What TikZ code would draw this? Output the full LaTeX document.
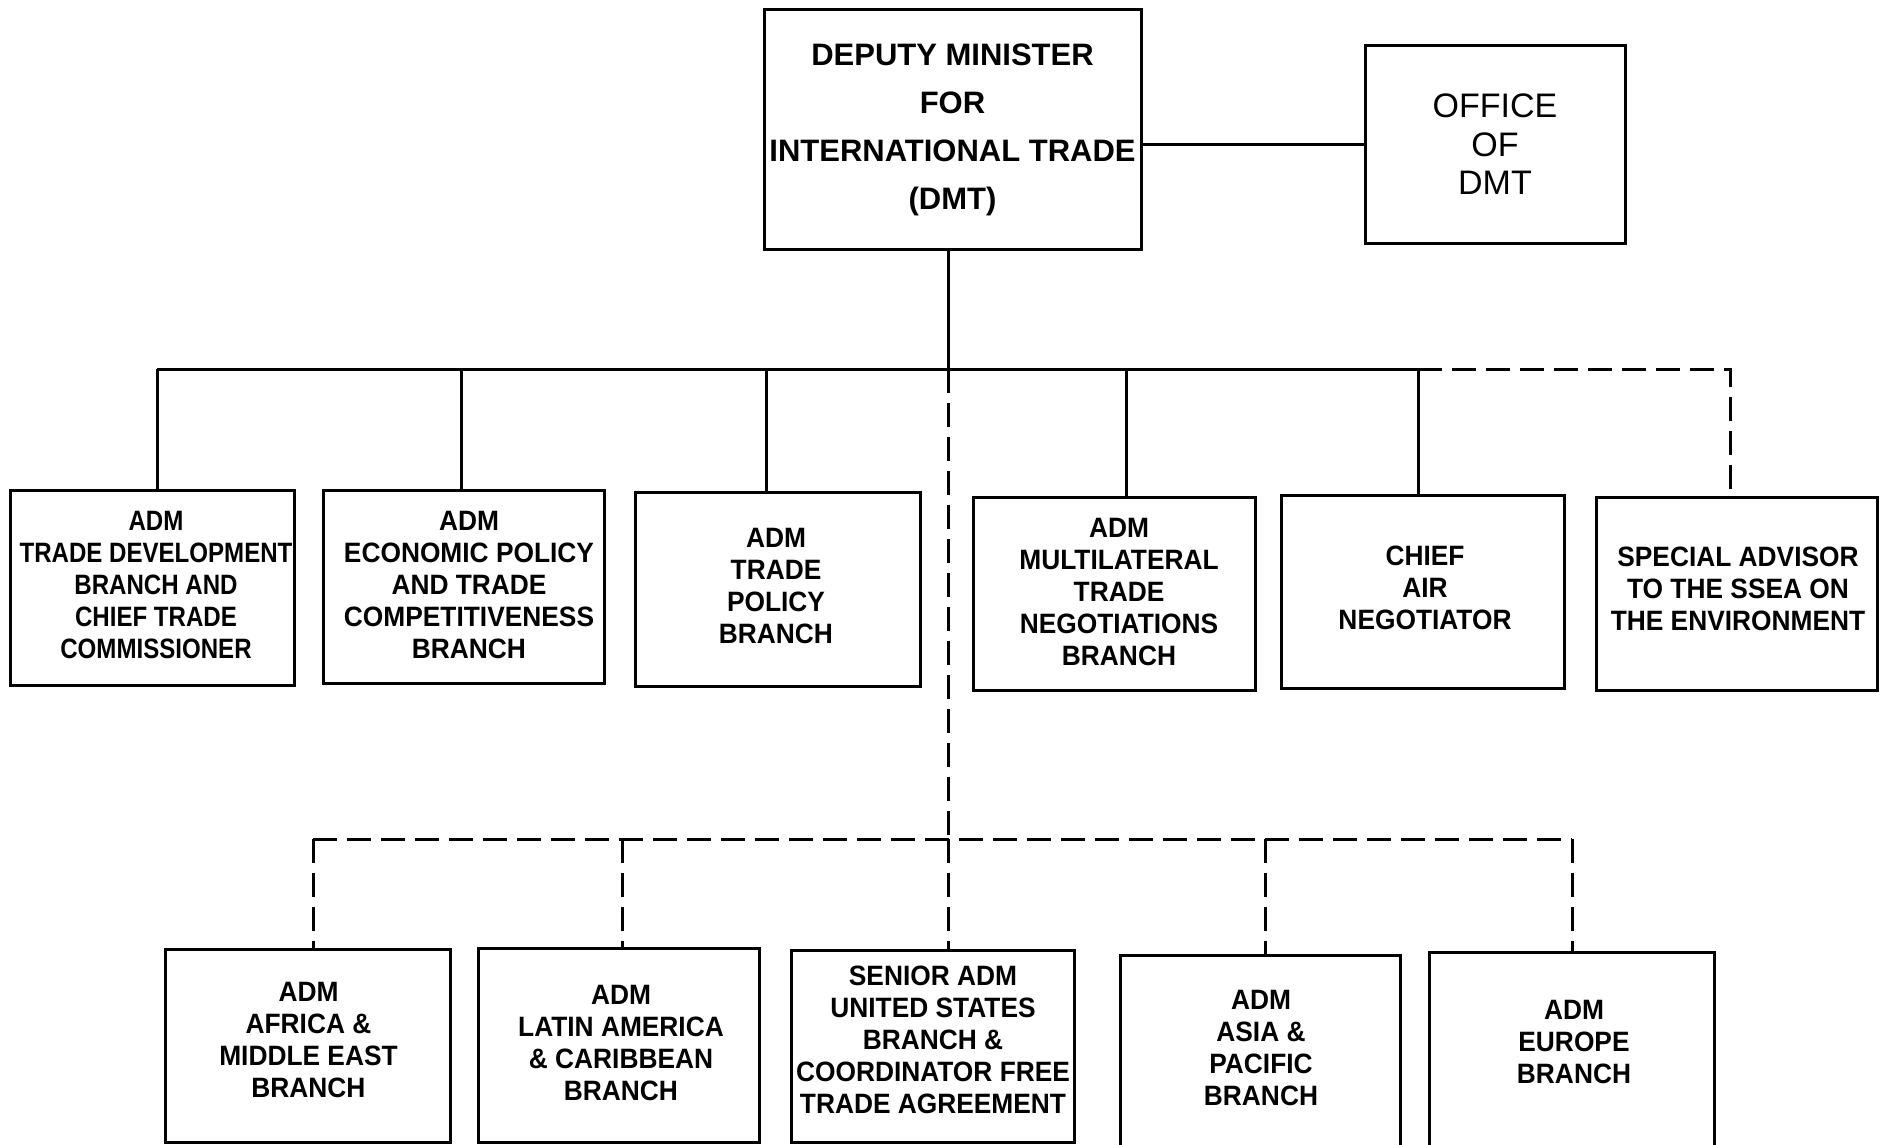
\documentclass[tikz,border=0pt]{standalone}
\usepackage{fontspec}
\newfontfamily\rowf{Liberation Sans}[FakeStretch=0.94]
\newfontfamily\tightf{Liberation Sans}[FakeStretch=0.86]
\newfontfamily\dmtf{Liberation Sans}
\newcommand\rowtext{\rowf\bfseries\fontsize{28}{32}\selectfont}
\newcommand\tightrowtext{\tightf\bfseries\fontsize{28}{32}\selectfont}
\newcommand\dmttext{\dmtf\bfseries\fontsize{31}{48}\selectfont}
\newcommand\officetext{\dmtf\fontsize{34}{38.4}\selectfont}
\tikzset{
  box/.style={draw, line width=3pt, inner sep=0pt, align=center},
  txt/.style={inner sep=0pt, align=center, font=\rowtext},
  link/.style={line width=3pt},
  dlink/.style={line width=3pt, dash pattern=on 24pt off 10pt},
}
\begin{document}
\begin{tikzpicture}[x=1pt,y=-1pt]
\useasboundingbox[fill=white] (0,0) rectangle (1883,1145);
% top
\node[box, font=\dmttext, minimum width=377, minimum height=239] (dmt) at (952.5,129.5)
  {DEPUTY MINISTER\\FOR\\INTERNATIONAL TRADE\\(DMT)};
\node[box, font=\officetext, minimum width=260, minimum height=197] (office) at (1495,144.5)
  {OFFICE\\OF\\DMT};
% first row boxes
\node[box, minimum width=284, minimum height=195] (b1) at (152,587.5) {};
\node[box, minimum width=281, minimum height=193] (b2) at (463.5,586.5) {};
\node[box, minimum width=285, minimum height=194] (b3) at (777.5,589) {};
\node[box, minimum width=282, minimum height=193] (b4) at (1114,593.5) {};
\node[box, minimum width=283, minimum height=193] (b5) at (1422.5,591.5) {};
\node[box, minimum width=281, minimum height=193] (b6) at (1736.5,593.5) {};
% first row texts
\node[txt, font=\tightrowtext] (t1) at (156,585)
  {ADM\\TRADE DEVELOPMENT\\BRANCH AND\\CHIEF TRADE\\COMMISSIONER};
\node[txt] (t2) at (469,585)
  {ADM\\ECONOMIC POLICY\\AND TRADE\\COMPETITIVENESS\\BRANCH};
\node[txt] (t3) at (776,586)
  {ADM\\TRADE\\POLICY\\BRANCH};
\node[txt] (t4) at (1119,592)
  {ADM\\MULTILATERAL\\TRADE\\NEGOTIATIONS\\BRANCH};
\node[txt] (t5) at (1425,588)
  {CHIEF\\AIR\\NEGOTIATOR};
\node[txt] (t6) at (1738,589)
  {SPECIAL ADVISOR\\TO THE SSEA ON\\THE ENVIRONMENT};
% second row boxes
\node[box, minimum width=285, minimum height=193] (c1) at (307.5,1045.5) {};
\node[box, minimum width=281, minimum height=194] (c2) at (618.5,1045) {};
\node[box, minimum width=283, minimum height=192] (c3) at (932.5,1046) {};
\node[box, minimum width=280, minimum height=205] (c4) at (1260,1057.5) {};
\node[box, minimum width=285, minimum height=208] (c5) at (1571.5,1056) {};
% second row texts
\node[txt] (u1) at (308.5,1040)
  {ADM\\AFRICA \&\\MIDDLE EAST\\BRANCH};
\node[txt] (u2) at (621,1043)
  {ADM\\LATIN AMERICA\\\& CARIBBEAN\\BRANCH};
\node[txt] (u3) at (933,1040)
  {SENIOR ADM\\UNITED STATES\\BRANCH \&\\COORDINATOR FREE\\TRADE AGREEMENT};
\node[txt] (u4) at (1261,1048)
  {ADM\\ASIA \&\\PACIFIC\\BRANCH};
\node[txt] (u5) at (1574,1042)
  {ADM\\EUROPE\\BRANCH};
% junctions
\coordinate (jm) at (948,369);
\coordinate (j1) at (157,369);
\coordinate (j2) at (461,369);
\coordinate (j3) at (766,369);
\coordinate (j4) at (1126,369);
\coordinate (j5) at (1418,369);
\coordinate (j6) at (1730,369);
\coordinate (km) at (948,839);
\coordinate (k1) at (313,839);
\coordinate (k2) at (622,839);
\coordinate (k4) at (1265,839);
\coordinate (k5) at (1572,839);
% solid connectors
\draw[link] (dmt.east |- office.west) -- (office.west);
\draw[link] (dmt.south -| jm) -- (jm);
\draw[link] (j1) -- (j5);
\draw[link] (j1) -- (j1 |- b1.north);
\draw[link] (j2) -- (j2 |- b2.north);
\draw[link] (j3) -- (j3 |- b3.north);
\draw[link] (j4) -- (j4 |- b4.north);
\draw[link] (j5) -- (j5 |- b5.north);
% dashed connectors
\draw[dlink] (j5) -- (j6) -- (j6 |- b6.north);
\draw[dlink] (jm) -- (km);
\draw[dlink] (k1) -- (k5);
\draw[dlink] (k1) -- (k1 |- c1.north);
\draw[dlink] (k2) -- (k2 |- c2.north);
\draw[dlink] (km) -- (km |- c3.north);
\draw[dlink] (k4) -- (k4 |- c4.north);
\draw[dlink] (k5) -- (k5 |- c5.north);
\end{tikzpicture}
\end{document}
